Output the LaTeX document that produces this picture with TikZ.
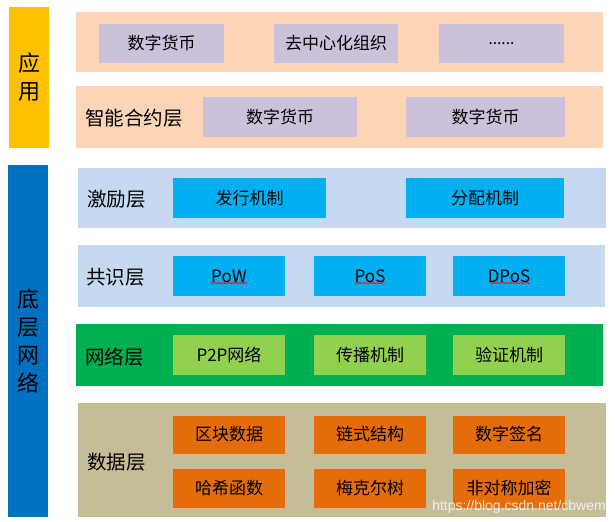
\documentclass[tikz,border=0pt]{standalone}
\usepackage{fontspec}
\setmainfont{Noto Sans CJK SC}
\newfontfamily\wmfont{Liberation Sans}
\newfontfamily\dotfont{Carlito}
\usetikzlibrary{positioning}
\usetikzlibrary{decorations.pathmorphing}
\definecolor{appyellow}{HTML}{FFC000}
\definecolor{baseblue}{HTML}{0070C0}
\definecolor{apppeach}{HTML}{FBD5B5}
\definecolor{applav}{HTML}{CCC1DA}
\definecolor{layblue}{HTML}{C6D9F1}
\definecolor{boxcyan}{HTML}{00B0F0}
\definecolor{netgreen}{HTML}{00B050}
\definecolor{boxgreen}{HTML}{92D050}
\definecolor{datatan}{HTML}{C4BD97}
\definecolor{boxorange}{HTML}{E46C0A}
\tikzset{
    sidebar/.style = {rectangle, inner sep=0pt, minimum width=40pt, align=center, font=\fontsize{22}{28}\selectfont, text=black},
    layerbg/.style = {rectangle, inner sep=0pt, minimum width=527pt, minimum height=62pt},
    layername/.style = {anchor=west, inner sep=0pt, font=\fontsize{19.5}{22}\selectfont, text=black},
    itembox/.style = {rectangle, inner sep=0pt, minimum height=39pt, font=\fontsize{17}{20}\selectfont, text=black},
    appbox/.style = {itembox, fill=applav},
    cyanbox/.style = {itembox, fill=boxcyan, minimum width=112pt},
    greenbox/.style = {itembox, fill=boxgreen, minimum width=112pt},
    orangebox/.style = {itembox, fill=boxorange, minimum width=112pt},
    wavy/.style = {red, line width=0.6pt, decorate, decoration={snake, amplitude=0.7pt, segment length=3pt}}
}

\begin{document}
\begin{tikzpicture}[x=1pt,y=-1pt]
\path[use as bounding box] (0,0) rectangle (616,522);

% side bars
\node[sidebar, fill=appyellow, minimum height=141pt] at (29,77.5) (app) {应\\用};
\node[sidebar, fill=baseblue, minimum height=352pt] at (28,341) (base) {底\\层\\网\\络};

% layer backgrounds
\node[layerbg, fill=apppeach, minimum height=60pt] at (339.5,42) (L1) {};
\node[layerbg, fill=apppeach] at (339.5,117) (L2) {};
\node[layerbg, fill=layblue, minimum width=528pt, minimum height=60pt] at (342,198) (L3) {};
\node[layerbg, fill=layblue] at (341.5,276) (L4) {};
\node[layerbg, fill=netgreen] at (339.5,355) (L5) {};
\node[layerbg, fill=datatan, minimum width=528pt, minimum height=114pt] at (342,460) (L6) {};

% layer names
\node[layername] at (85,118) (n2) {智能合约层};
\node[layername] at (87,199) (n3) {激励层};
\node[layername] at (86,277) (n4) {共识层};
\node[layername] at (85,357) (n5) {网络层};
\node[layername] at (87,462) (n6) {数据层};

% application
\node[appbox, minimum width=125pt] at (161.5,43.5) (a1) {数字货币};
\node[appbox, minimum width=124pt] at (336,43.5) (a2) {去中心化组织};
\node[appbox, minimum width=125pt] at (501.5,43.5) (a3) {\dotfont ......};
\node[appbox, minimum width=154pt, minimum height=40pt] at (280,117) (c1) {数字货币};
\node[appbox, minimum width=159pt, minimum height=40pt] at (485.5,117) (c2) {数字货币};

% incentive
\node[cyanbox, minimum width=153pt, minimum height=40pt] at (249.5,198) (i1) {发行机制};
\node[cyanbox, minimum width=158pt, minimum height=40pt] at (485,198) (i2) {分配机制};

% consensus
\node[cyanbox, minimum height=40pt] at (229,276) (pow) {PoW};
\node[cyanbox, minimum height=40pt] at (370,276) (pos) {PoS};
\node[cyanbox, minimum height=40pt] at (509,276) (dpos) {DPoS};
\draw[wavy] ([xshift=-18pt,yshift=-7pt]pow.center) -- ([xshift=18pt,yshift=-7pt]pow.center);
\draw[wavy] ([xshift=-15pt,yshift=-7pt]pos.center) -- ([xshift=15pt,yshift=-7pt]pos.center);
\draw[wavy] ([xshift=-19pt,yshift=-7pt]dpos.center) -- ([xshift=21pt,yshift=-7pt]dpos.center);

% network
\node[greenbox, minimum height=40pt] at (229,355) (p2p) {P2P网络};
\node[greenbox, minimum height=40pt] at (370,355) (spread) {传播机制};
\node[greenbox, minimum height=40pt] at (509,355) (verify) {验证机制};

% data
\node[orangebox, minimum height=38pt] at (229,434.5) (d1) {区块数据};
\node[orangebox, minimum height=38pt] at (370,434.5) (d2) {链式结构};
\node[orangebox, minimum height=38pt] at (509,434.5) (d3) {数字签名};
\node[orangebox] at (229,488) (d4) {哈希函数};
\node[orangebox] at (370,488) (d5) {梅克尔树};
\node[orangebox] at (509,488) (d6) {非对称加密};

% watermark
\node[anchor=base east, inner sep=0pt, text=white, opacity=0.8, font=\wmfont\fontsize{14}{16}\selectfont] at (606,510) (wm) {https://blog.csdn.net/cbwem};

\end{tikzpicture}
\end{document}
